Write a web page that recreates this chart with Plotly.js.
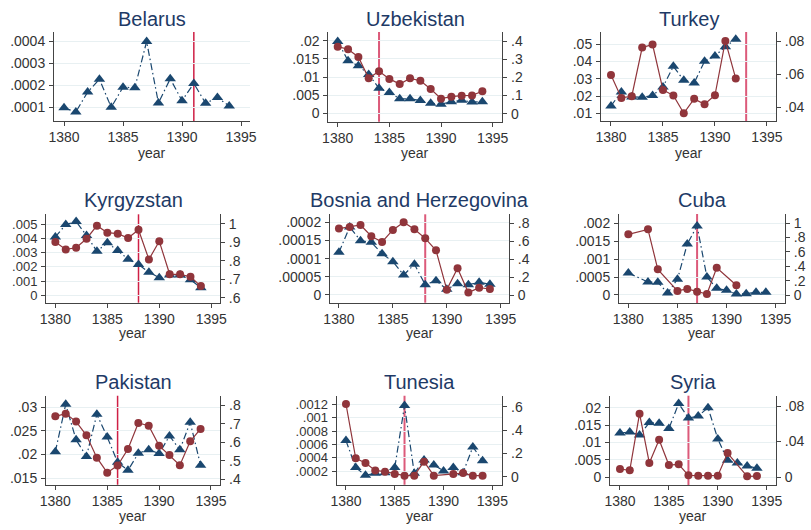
<!DOCTYPE html>
<html>
<head>
<meta charset="utf-8">
<script src="https://cdn.plot.ly/plotly-3.0.1.min.js"></script>
<style>html,body{margin:0;padding:0;background:#fff}#chart{width:811px;height:530px}</style>
</head>
<body>
<div id="chart"></div>
<script>
// ---------------- DATA ----------------
const years = [1380,1381,1382,1383,1384,1385,1386,1387,1388,1389,1390,1391,1392,1393,1394];
const countries = ["Belarus","Uzbekistan","Turkey","Kyrgyzstan","Bosnia and Herzegovina","Cuba","Pakistan","Tunesia","Syria"];
const policyYear = [1391,1384,1393,1388,1388,1387,1386,1386,1387];
const xLabel = "year";

const belarusA = [0.000098,0.000079,0.000169,0.000227,0.0001,0.000191,0.000188,0.000398,0.00012,0.000229,0.00013,0.000208,0.000118,0.000144,0.000106];
const belarusB = null;

const uzbekA = [0.0198,0.0145,0.0131,0.0107,0.0069,0.0057,0.0040,0.0040,0.0035,0.0028,0.0025,0.0032,0.0036,0.0031,0.0032];
const uzbekB = [0.370,0.356,0.313,0.195,0.234,0.192,0.164,0.195,0.182,0.136,0.083,0.094,0.0995,0.101,0.124];

const turkeyA = [0.0143,0.0224,0.0195,0.0193,0.0203,0.0253,0.0372,0.0291,0.0276,0.0401,0.0432,0.0486,0.0529,null,null];
const turkeyB = [0.0596,0.0457,0.0467,0.0762,0.0780,0.0505,0.0471,0.0364,0.0451,0.0418,0.0473,0.0802,0.0574,null,null];

const kyrgA = [0.00411,0.00498,0.00519,0.0042,0.0031,0.00369,0.00315,0.00254,0.00216,0.00162,0.00124,0.00143,0.00143,0.0011,0.00054];
const kyrgB = [0.902,0.862,0.871,0.920,0.991,0.953,0.9475,0.924,0.969,0.808,0.906,0.727,0.727,0.714,0.663];

const bosniaA = [0.0001174,0.0001872,0.0001495,0.000145,0.0001138,0.0000917,0.000055,0.0000844,0.0000284,0.0000394,0.0000156,0.0000312,0.0000284,0.0000349,0.0000294];
const bosniaB = [0.741,0.759,0.781,0.656,0.593,0.726,0.811,0.733,0.633,0.5,0.063,0.3,0.03,0.085,0.07];

const cubaA = [0.000614,null,0.000363,0.000353,0.0000558,0.000437,0.001423,0.001926,0.000502,0.000186,0.00013,0.000028,0.000037,0.0000744,0.0000744];
const cubaB = [0.843,null,0.912,0.359,null,0.060,0.0876,0.0507,0.018,0.382,null,0.138,null,null,null];

const pakA = [0.0206,0.03056,0.0231,0.0196,0.02846,0.0237,0.01836,0.01668,0.02026,0.02103,0.02019,0.0239,0.02103,0.02678,0.01773];
const pakB = [0.7405,0.755,0.712,0.638,0.517,0.436,0.474,0.564,0.7045,0.690,0.582,0.5315,0.476,0.605,0.672];

const tunA = [0.000658,0.000255,0.00014,0.00017,0.00018,0.000255,0.00118,0.00017,0.00037,0.000295,0.000205,0.000255,0.00018,0.000563,0.000359];
const tunB = [0.623,0.157,0.117,0.054,0.043,0.023,0.0086,0.0086,0.129,0.0086,null,0.023,0.031,0.0086,0.0086];

const syrA = [0.0127,0.013,0.0121,0.0157,0.0155,0.014,0.0212,0.0170,0.0176,0.0200,0.011,0.0048,0.00404,0.00317,0.0025];
const syrB = [0.009,0.0075,0.0714,0.0158,0.042,0.0135,0.0143,0.0019,0.0015,0.0015,0.0015,0.027,null,0.00075,0.0011];

const seriesA = [belarusA,uzbekA,turkeyA,kyrgA,bosniaA,cubaA,pakA,tunA,syrA];
const seriesB = [belarusB,uzbekB,turkeyB,kyrgB,bosniaB,cubaB,pakB,tunB,syrB];

// tick labels
const xTicks = [1380,1385,1390,1395];
const leftTickVals = [
  [0.0001,0.0002,0.0003,0.0004],
  [0,0.005,0.01,0.015,0.02],
  [0.01,0.02,0.03,0.04,0.05],
  [0,0.001,0.002,0.003,0.004,0.005],
  [0,0.00005,0.0001,0.00015,0.0002],
  [0,0.0005,0.001,0.0015,0.002],
  [0.015,0.02,0.025,0.03],
  [0.0002,0.0004,0.0006,0.0008,0.001,0.0012],
  [0,0.005,0.01,0.015,0.02]
];
const leftTickText = [
  [".0001",".0002",".0003",".0004"],
  ["0",".005",".01",".015",".02"],
  [".01",".02",".03",".04",".05"],
  ["0",".001",".002",".003",".004",".005"],
  ["0",".00005",".0001",".00015",".0002"],
  ["0",".0005",".001",".0015",".002"],
  [".015",".02",".025",".03"],
  [".0002",".0004",".0006",".0008",".001",".0012"],
  ["0",".005",".01",".015",".02"]
];
const rightTickVals = [
  null,
  [0,0.1,0.2,0.3,0.4],
  [0.04,0.06,0.08],
  [0.6,0.7,0.8,0.9,1],
  [0,0.2,0.4,0.6,0.8],
  [0,0.2,0.4,0.6,0.8,1],
  [0.4,0.5,0.6,0.7,0.8],
  [0,0.2,0.4,0.6],
  [0,0.04,0.08]
];
const rightTickText = [
  null,
  ["0",".1",".2",".3",".4"],
  [".04",".06",".08"],
  [".6",".7",".8",".9","1"],
  ["0",".2",".4",".6",".8"],
  ["0",".2",".4",".6",".8","1"],
  [".4",".5",".6",".7",".8"],
  ["0",".2",".4",".6"],
  ["0",".04",".08"]
];

// ---------------- LAYOUT GEOMETRY (pixels) ----------------
const W = 811, H = 530;
// [left, right, top, bottom] of each plot region
const boxes = [
  [54,250,32,121],
  [328.3,502.3,32,121.7],
  [601,776,32,121],
  [46,220,214.3,302.7],
  [330,509,214.3,302.7],
  [619,785,214,303.3],
  [46,220.3,395.7,484.7],
  [336.7,502.3,395.7,484.7],
  [610,776,395.7,485]
];
const xRanges = [
  [1379.15,1395.76],[1379.09,1395.93],[1379.04,1395.87],
  [1379.1,1395.84],[1379.17,1395.77],[1379.05,1395.95],
  [1379.1,1395.9],[1379.05,1396.02],[1378.98,1395.95]
];
const yLRanges = [
  [0.000038,0.000441],[-0.00231,0.0224],[0.00554,0.0571],
  [-0.00052,0.0057],[-0.0000212,0.000222],[-0.000232,0.00226],
  [0.01365,0.03238],[0.0000,0.001328],[-0.00231,0.02346]
];
const yRRanges = [
  null,[-0.0442,0.451],[0.0317,0.0856],
  [0.5729,1.0526],[-0.0822,0.9],[-0.1107,1.1245],
  [0.3708,0.8519],[-0.0686,0.694],[-0.009,0.0916]
];
const titleY = [18.5,18.5,18.5,199.5,199.5,199.5,382,382,382];
const yearY = [152.7,152.7,152.7,333.3,333.3,333.3,516,516,516];
const leftTickSize = [14,14,14,13,14,14,14,13,14];

const BLUE = "#1a476f", RED = "#90353b", AXC = "#444", TXT = "#333";
const FONT = "Liberation Sans, Arial, sans-serif";
const TICK = 14;

const traces = [];
const layout = {
  width: W, height: H,
  margin: {l:0,r:0,t:0,b:0},
  paper_bgcolor: "#fff", plot_bgcolor: "#fff",
  showlegend: false,
  font: {family: FONT, size: TICK, color: TXT},
  annotations: [], shapes: []
};

for (let i = 0; i < 9; i++) {
  const n = i + 1;
  const [l, r, t, b] = boxes[i];
  const xid = "x" + n, yLid = "y" + n, yRid = "y" + (n + 9);
  const xKey = "xaxis" + n, yLKey = "yaxis" + n, yRKey = "yaxis" + (n + 9);

  layout[xKey] = {
    domain: [l / W, r / W], range: xRanges[i], anchor: yLid,
    tickvals: xTicks, ticks: "outside", ticklen: 4, tickcolor: AXC, tickwidth: 1,
    showline: true, linecolor: AXC, linewidth: 1, showgrid: false, zeroline: false,
    tickfont: {size: TICK, color: TXT, family: FONT}, ticklabelstandoff: -1,
    fixedrange: true
  };
  layout[yLKey] = {
    domain: [1 - b / H, 1 - t / H], range: yLRanges[i], anchor: xid, side: "left",
    tickvals: leftTickVals[i], ticktext: leftTickText[i],
    ticks: "outside", ticklen: 4, tickcolor: AXC, tickwidth: 1,
    showline: true, linecolor: AXC, linewidth: 1,
    showgrid: true, gridcolor: "#e8f0f2", gridwidth: 1, zeroline: false,
    tickfont: {size: leftTickSize[i], color: TXT, family: FONT}, ticklabelstandoff: 1,
    fixedrange: true
  };

  traces.push({
    x: years, y: seriesA[i], xaxis: xid, yaxis: yLid,
    type: "scatter", mode: "lines+markers", connectgaps: true,
    line: {color: BLUE, width: 1.2, dash: "7px,3px,1.5px,3px"},
    marker: {symbol: "triangle-up", size: 10, color: BLUE},
    hoverinfo: "skip"
  });

  if (seriesB[i]) {
    layout[yRKey] = {
      range: yRRanges[i], overlaying: yLid, anchor: xid, side: "right",
      tickvals: rightTickVals[i], ticktext: rightTickText[i],
      ticks: "outside", ticklen: 4, tickcolor: AXC, tickwidth: 1,
      showline: true, linecolor: AXC, linewidth: 1,
      showgrid: false, zeroline: false,
      tickfont: {size: TICK, color: TXT, family: FONT}, ticklabelstandoff: 1,
      fixedrange: true
    };
    traces.push({
      x: years, y: seriesB[i], xaxis: xid, yaxis: yRid,
      type: "scatter", mode: "lines+markers", connectgaps: true,
      line: {color: RED, width: 1.2},
      marker: {symbol: "circle", size: 8, color: RED},
      hoverinfo: "skip"
    });
  }

  const crisp = (i % 3 === 0);
  layout.shapes.push({
    type: "line", xref: xid, yref: yLid + " domain",
    x0: policyYear[i], x1: policyYear[i], y0: 0, y1: 1,
    line: {color: crisp ? "#cf1f45" : "#dc5a7a", width: crisp ? 1.5 : 2},
    layer: "below"
  });

  layout.annotations.push({
    text: countries[i], xref: "paper", yref: "paper",
    x: ((l + r) / 2) / W, y: 1 - titleY[i] / H,
    xanchor: "center", yanchor: "middle", showarrow: false,
    font: {size: 20, color: "#1e3a66", family: FONT}
  });
  layout.annotations.push({
    text: xLabel, xref: "paper", yref: "paper",
    x: ((l + r) / 2) / W, y: 1 - yearY[i] / H,
    xanchor: "center", yanchor: "middle", showarrow: false,
    font: {size: TICK, color: TXT, family: FONT}
  });
}

Plotly.newPlot("chart", traces, layout, {staticPlot: true, displayModeBar: false});
</script>
</body>
</html>
